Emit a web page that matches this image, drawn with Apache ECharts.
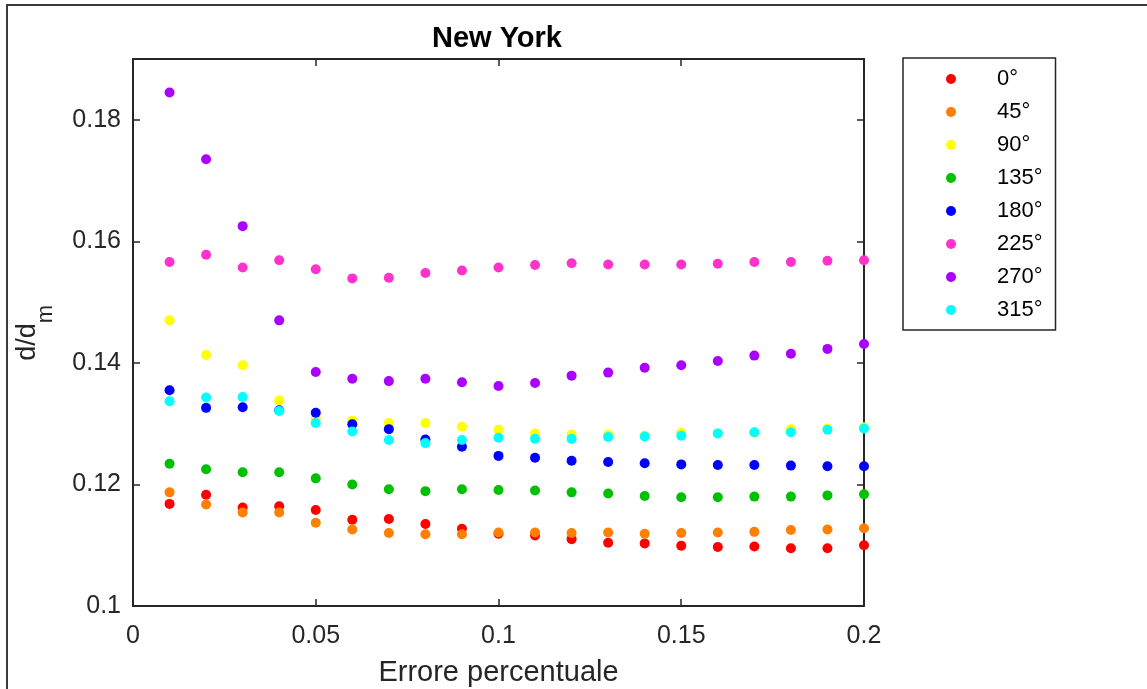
<!DOCTYPE html>
<html>
<head>
<meta charset="utf-8">
<title>New York</title>
<script src="https://cdn.jsdelivr.net/npm/echarts@6/dist/echarts.min.js"></script>
<style>
  html, body { margin: 0; padding: 0; background: #ffffff; }
  #chart { width: 1147px; height: 689px; }
</style>
</head>
<body>
<div id="chart"></div>
<script>
// Percentage error (x) shared by every direction
const errors = [0.01, 0.02, 0.03, 0.04, 0.05, 0.06, 0.07, 0.08, 0.09, 0.10,
                0.11, 0.12, 0.13, 0.14, 0.15, 0.16, 0.17, 0.18, 0.19, 0.20];

// d/d_m for each wind direction
const dir0   = [0.1168, 0.1183, 0.1162, 0.1164, 0.1158, 0.1142, 0.1143, 0.1135, 0.1127, 0.1119,
                0.1116, 0.1110, 0.1104, 0.1103, 0.1099, 0.1097, 0.1098, 0.1095, 0.1095, 0.1100];
const dir45  = [0.1187, 0.1167, 0.1154, 0.1154, 0.1137, 0.1126, 0.1120, 0.1118, 0.1118, 0.1121,
                0.1121, 0.1120, 0.1121, 0.1119, 0.1120, 0.1121, 0.1122, 0.1125, 0.1126, 0.1128];
const dir90  = [0.1470, 0.1413, 0.1396, 0.1338, 0.1309, 0.1305, 0.1301, 0.1301, 0.1295, 0.1290,
                0.1284, 0.1282, 0.1282, 0.1280, 0.1285, 0.1284, 0.1285, 0.1291, 0.1292, 0.1294];
const dir135 = [0.1234, 0.1225, 0.1220, 0.1220, 0.1210, 0.1200, 0.1192, 0.1189, 0.1192, 0.1191,
                0.1190, 0.1187, 0.1185, 0.1181, 0.1179, 0.1179, 0.1180, 0.1180, 0.1182, 0.1184];
const dir180 = [0.1355, 0.1326, 0.1327, 0.1322, 0.1318, 0.1299, 0.1291, 0.1274, 0.1262, 0.1247,
                0.1244, 0.1239, 0.1237, 0.1235, 0.1233, 0.1232, 0.1232, 0.1231, 0.1230, 0.1230];
const dir225 = [0.1566, 0.1578, 0.1557, 0.1569, 0.1554, 0.1539, 0.1540, 0.1548, 0.1552, 0.1557,
                0.1561, 0.1564, 0.1562, 0.1562, 0.1562, 0.1563, 0.1566, 0.1566, 0.1568, 0.1569];
const dir270 = [0.1845, 0.1735, 0.1625, 0.1470, 0.1385, 0.1374, 0.1370, 0.1374, 0.1368, 0.1362,
                0.1367, 0.1379, 0.1384, 0.1392, 0.1396, 0.1403, 0.1412, 0.1415, 0.1423, 0.1431];
const dir315 = [0.1337, 0.1343, 0.1344, 0.1321, 0.1301, 0.1287, 0.1273, 0.1268, 0.1273, 0.1277,
                0.1275, 0.1275, 0.1278, 0.1279, 0.1280, 0.1284, 0.1286, 0.1286, 0.1290, 0.1292];

const seriesNames  = ['0°', '45°', '90°', '135°', '180°', '225°', '270°', '315°'];
const seriesValues = [dir0, dir45, dir90, dir135, dir180, dir225, dir270, dir315];
const seriesColors = ['#ff0000', '#ff8000', '#ffff00', '#00c000', '#0000ff', '#ff33cc', '#aa00ff', '#00ffff'];

const FONT = "'Liberation Sans', Arial, Helvetica, sans-serif";
const AXIS_COLOR = '#262626';

const fmt = v => String(+v.toFixed(3));

const chart = echarts.init(document.getElementById('chart'), null, { renderer: 'canvas' });

const tickStyle = { inside: true, length: 7, lineStyle: { color: AXIS_COLOR, width: 1.5 } };
const lineStyle = { show: true, onZero: false, lineStyle: { color: AXIS_COLOR, width: 2 } };

chart.setOption({
  backgroundColor: '#ffffff',
  animation: false,
  title: {
    text: 'New York',
    left: 492, top: 19, textAlign: 'center',
    textStyle: { fontFamily: FONT, fontSize: 29, fontWeight: 'bold', color: '#000000' }
  },
  grid: { left: 133, right: 283, top: 59, bottom: 83, containLabel: false, outerBoundsMode: 'none' },
  xAxis: [
    {
      type: 'value', position: 'bottom', min: 0, max: 0.2, interval: 0.05,
      axisLine: lineStyle, axisTick: tickStyle, splitLine: { show: false },
      axisLabel: { fontFamily: FONT, fontSize: 25, color: AXIS_COLOR, margin: 18, formatter: fmt },
      name: 'Errore percentuale', nameLocation: 'middle', nameGap: 52,
      nameTextStyle: { fontFamily: FONT, fontSize: 29, color: AXIS_COLOR }
    },
    {
      type: 'value', position: 'top', min: 0, max: 0.2, interval: 0.05,
      axisLine: lineStyle, axisTick: tickStyle, splitLine: { show: false },
      axisLabel: { show: false }
    }
  ],
  yAxis: [
    {
      type: 'value', position: 'left', min: 0.1, max: 0.19, interval: 0.02,
      axisLine: lineStyle, axisTick: tickStyle, splitLine: { show: false },
      axisLabel: { fontFamily: FONT, fontSize: 25, color: AXIS_COLOR, margin: 12,
                   showMaxLabel: false, formatter: fmt },
      // "d/d" followed by a lowered "m" subscript; the empty strut token sets the line height
      name: '{a|d/d}{b|m}{s| }', nameLocation: 'middle', nameGap: 76, nameRotate: 90,
      nameTextStyle: {
        fontFamily: FONT, color: AXIS_COLOR,
        rich: {
          a: { fontFamily: FONT, fontSize: 27, color: AXIS_COLOR, lineHeight: 27, verticalAlign: 'top' },
          b: { fontFamily: FONT, fontSize: 22, color: AXIS_COLOR, lineHeight: 22, verticalAlign: 'bottom' },
          s: { fontFamily: FONT, fontSize: 2, lineHeight: 43, verticalAlign: 'middle' }
        }
      }
    },
    {
      type: 'value', position: 'right', min: 0.1, max: 0.19, interval: 0.02,
      axisLine: lineStyle, axisTick: tickStyle, splitLine: { show: false },
      axisLabel: { show: false }
    }
  ],
  legend: {
    orient: 'vertical',
    left: 903, top: 58,
    data: seriesNames,
    itemWidth: 10, itemHeight: 10, itemGap: 11,
    padding: [10, 13, 9, 43],
    borderColor: '#262626', borderWidth: 1.5, borderRadius: 0,
    backgroundColor: '#ffffff',
    textStyle: { fontFamily: FONT, fontSize: 22, color: '#000000', lineHeight: 22, padding: [0, 0, 0, 36] }
  },
  graphic: [
    // figure frame edges along the top and left
    { type: 'line', shape: { x1: 6, y1: 5, x2: 1147, y2: 5 }, style: { stroke: '#3a3a3a', lineWidth: 2 }, silent: true },
    { type: 'line', shape: { x1: 7, y1: 5, x2: 7, y2: 689 }, style: { stroke: '#3a3a3a', lineWidth: 2 }, silent: true }
  ],
  series: seriesNames.map((name, k) => ({
    name: name,
    type: 'scatter',
    xAxisIndex: 0, yAxisIndex: 0,
    symbol: 'circle', symbolSize: 10,
    itemStyle: { color: seriesColors[k], opacity: 1 },
    data: errors.map((x, i) => [x, seriesValues[k][i]])
  }))
});
</script>
</body>
</html>
